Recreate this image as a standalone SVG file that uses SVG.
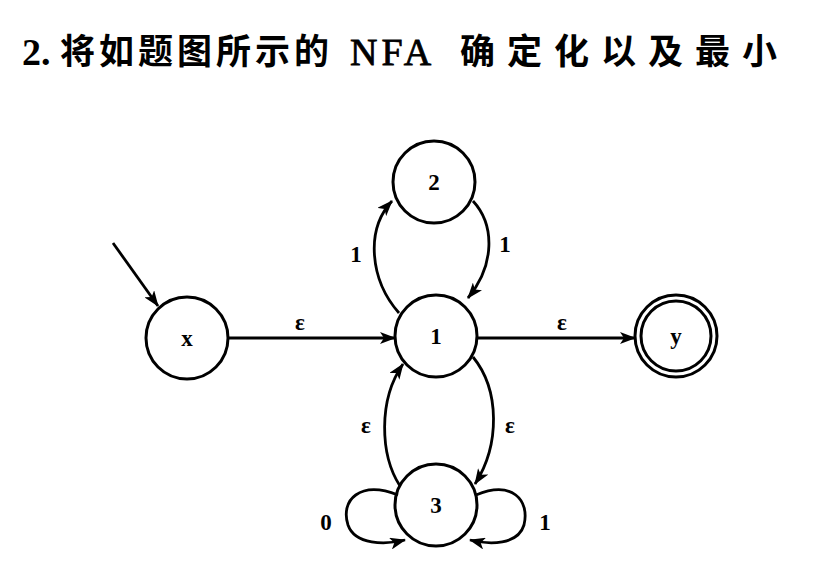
<svg xmlns="http://www.w3.org/2000/svg" width="817" height="574" viewBox="0 0 817 574">
<defs>
<style>
.st{fill:none;stroke:#000;stroke-width:3}
.e{fill:none;stroke:#000;stroke-width:2.8}
.lb{font-family:"Liberation Serif",serif;font-size:23px;font-weight:bold;fill:#000;text-anchor:middle}
.t{font-family:"Liberation Serif",serif;font-size:38px;font-weight:bold;fill:#000}
.n{font-family:"Liberation Serif",serif;font-size:38px;font-weight:normal;fill:#000;letter-spacing:4px;stroke:#000;stroke-width:0.8}
.c{font-family:"Noto Sans CJK SC",sans-serif;font-size:35px;font-weight:bold;fill:#000;letter-spacing:4px}
.c2{font-family:"Noto Sans CJK SC",sans-serif;font-size:35px;font-weight:bold;fill:#000;letter-spacing:12px}
</style>
<marker id="ah" viewBox="0 0 16 12" refX="15" refY="6" markerWidth="16" markerHeight="12" markerUnits="userSpaceOnUse" orient="auto">
<path d="M0,0 L16,6 L0,12 L4,6 Z" fill="#000"/>
</marker>
</defs>
<rect width="817" height="574" fill="#fff"/>
<g id="title">
<text class="t" x="22" y="65">2.</text>
<text class="c" x="60" y="64">将如题图所示的</text>
<text class="n" x="350" y="65">NFA</text>
<text class="c2" x="460" y="64">确定化以及最小</text>
</g>
<g id="connectors">
<line class="e" x1="113" y1="243" x2="158" y2="306" marker-end="url(#ah)"/>
<line class="e" x1="228" y1="338" x2="395" y2="338" marker-end="url(#ah)"/>
<line class="e" x1="477" y1="338" x2="635" y2="338" marker-end="url(#ah)"/>
<path class="e" d="M399,313 C370,280 365,230 392,201" marker-end="url(#ah)"/>
<path class="e" d="M473,201 C495,225 495,265 468,298" marker-end="url(#ah)"/>
<path class="e" d="M400,486 C380,455 378,400 403,364" marker-end="url(#ah)"/>
<path class="e" d="M473,357 C500,390 500,445 475,484" marker-end="url(#ah)"/>
<path class="e" d="M398,495 C360,480 340,500 348,525 C355,545 385,545 405,540" marker-end="url(#ah)"/>
<path class="e" d="M476,495 C512,480 530,500 524,525 C518,545 490,545 470,540" marker-end="url(#ah)"/>
<text class="lb" x="300" y="330">ε</text>
<text class="lb" x="562" y="330">ε</text>
<text class="lb" x="356" y="262">1</text>
<text class="lb" x="505" y="252">1</text>
<text class="lb" x="366" y="433">ε</text>
<text class="lb" x="510" y="433">ε</text>
<text class="lb" x="326" y="530">0</text>
<text class="lb" x="545" y="530">1</text>
</g>
<g id="node-x"><circle class="st" cx="187" cy="338" r="41"/><text class="lb" x="187" y="346">x</text></g>
<g id="node-1"><circle class="st" cx="436" cy="336" r="41"/><text class="lb" x="436" y="344">1</text></g>
<g id="node-2"><circle class="st" cx="434" cy="182" r="41"/><text class="lb" x="434" y="190">2</text></g>
<g id="node-3"><circle class="st" cx="436" cy="505" r="41"/><text class="lb" x="436" y="513">3</text></g>
<g id="node-y"><circle class="st" cx="676" cy="336" r="41"/><circle class="st" cx="676" cy="336" r="35"/><text class="lb" x="676" y="344">y</text></g>
</svg>
